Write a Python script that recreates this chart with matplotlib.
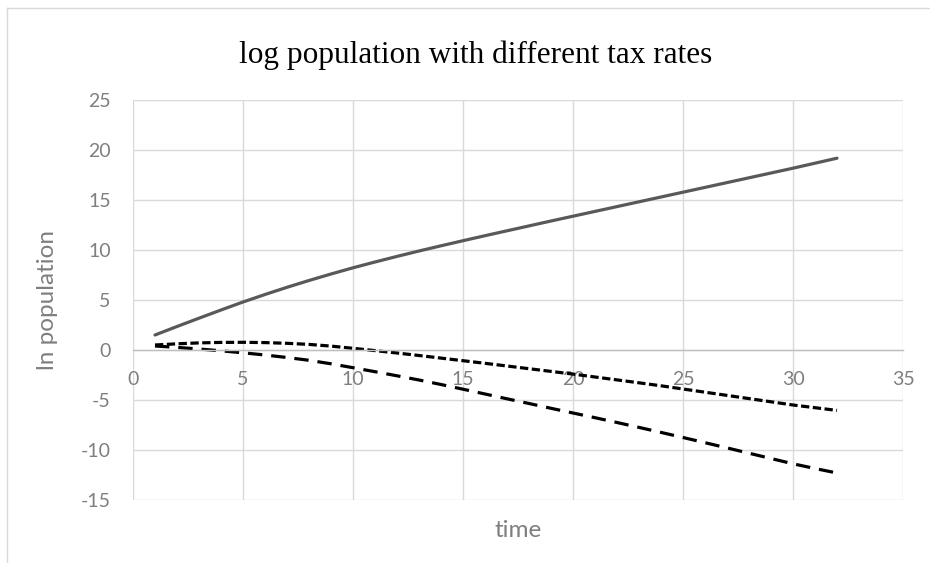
import numpy as np
import matplotlib
matplotlib.use("Agg")
import matplotlib.pyplot as plt
from matplotlib.lines import Line2D

plt.rcParams["axes.unicode_minus"] = False

# === DATA ===
time = list(range(1, 33))
ln_pop_low_tax = [1.5, 2.35, 3.18, 4.0, 4.8, 5.55, 6.27, 6.95, 7.6, 8.22,
                  8.8, 9.36, 9.9, 10.42, 10.93, 11.43, 11.92, 12.41, 12.9, 13.38,
                  13.86, 14.34, 14.82, 15.3, 15.78, 16.26, 16.74, 17.22, 17.7, 18.18,
                  18.68, 19.18]
ln_pop_mid_tax = [0.5, 0.62, 0.71, 0.76, 0.77, 0.74, 0.67, 0.56, 0.39, 0.17,
                  -0.06, -0.3, -0.55, -0.81, -1.07, -1.33, -1.6, -1.87, -2.14, -2.41,
                  -2.7, -2.99, -3.28, -3.58, -3.9, -4.22, -4.54, -4.86, -5.18, -5.5,
                  -5.77, -6.04]
ln_pop_high_tax = [0.4, 0.26, 0.1, -0.08, -0.28, -0.5, -0.75, -1.03, -1.38, -1.77,
                   -2.17, -2.58, -3.0, -3.45, -3.92, -4.4, -4.88, -5.35, -5.83, -6.3,
                   -6.77, -7.25, -7.74, -8.24, -8.75, -9.27, -9.79, -10.32, -10.85, -11.38,
                   -11.85, -12.3]
x_ticks = [0, 5, 10, 15, 20, 25, 30, 35]
y_ticks = [-15, -10, -5, 0, 5, 10, 15, 20, 25]

# === PLOTTING ===
W, H = 930, 563
fig = plt.figure(figsize=(W / 100, H / 100), dpi=100)
ax = fig.add_axes([133 / W, (H - 500) / H, 770 / W, 400 / H])

grid_col = "#d9d9d9"
text_col = "#7f7f7f"
sans = ["Lato", "DejaVu Sans"]

ax.plot(time, ln_pop_low_tax, color="#595959", lw=2.3, solid_capstyle="round")
ax.plot(time, ln_pop_mid_tax, color="black", lw=2.3, dashes=(2.6, 1.1))
ax.plot(time, ln_pop_high_tax, color="black", lw=2.3, dashes=(4.5, 2.8))

ax.set_xlim(0, 35)
ax.set_ylim(-15, 25)
ax.set_xticks(x_ticks)
ax.set_yticks(y_ticks)
ax.grid(True, color=grid_col, lw=1.0)
ax.set_axisbelow(True)

for side in ["top", "right", "left"]:
    ax.spines[side].set_visible(False)
ax.spines["bottom"].set_position(("data", 0))
ax.spines["bottom"].set_color("#bfbfbf")
ax.spines["bottom"].set_linewidth(1.0)

ax.tick_params(axis="both", length=0, colors=text_col)
ax.tick_params(axis="x", pad=15)
ax.tick_params(axis="y", pad=16)
for lab in ax.get_xticklabels() + ax.get_yticklabels():
    lab.set_fontfamily(sans)
    lab.set_fontsize(14)

ax.set_xlabel("time", color=text_col, fontsize=17.5, family=sans)
ax.xaxis.set_label_coords(0.5, -0.05)
ax.set_ylabel("ln population", color=text_col, fontsize=17.5, family=sans)
ax.yaxis.set_label_coords(-0.097, 0.5)

fig.text(476 / W, 1 - 55 / H, "log population with different tax rates",
         ha="center", va="center", fontsize=22.5, family="Liberation Serif", color="black")

# chart area border (light gray, runs off the right/bottom edge)
fig.add_artist(Line2D([7 / W, 7 / W], [0, 1 - 8 / H], color=grid_col, lw=1.0))
fig.add_artist(Line2D([7 / W, 1], [1 - 8 / H, 1 - 8 / H], color=grid_col, lw=1.0))

fig.savefig("out.png", dpi=100)
